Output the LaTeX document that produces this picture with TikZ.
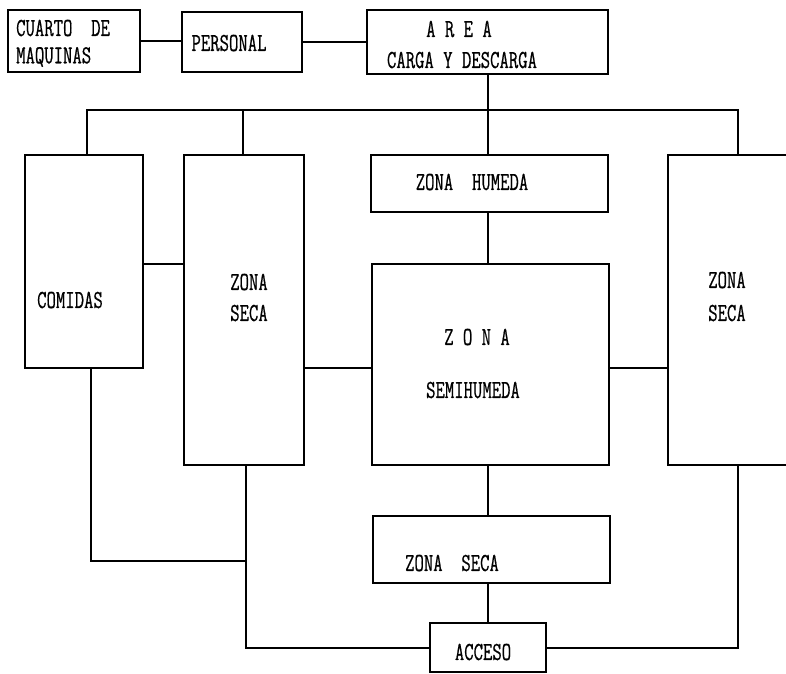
\documentclass[tikz,border=0pt]{standalone}
\usepackage{fontspec}
\setmainfont[FakeStretch=0.7,FakeBold=0.6]{Latin Modern Mono}
\begin{document}
\begin{tikzpicture}[x=1pt,y=-1pt,
  box/.style={draw,line width=1.2pt,inner sep=0pt},
  conn/.style={line width=1.2pt},
  txt/.style={inner sep=0pt,font=\fontsize{26}{30}\selectfont}]
\useasboundingbox (0,0) rectangle (786,673);
\clip (0,0) rectangle (786,673);
% boxes
\node[box,minimum width=132,minimum height=62] (cuarto) at (74,41) {};
\node[box,minimum width=120,minimum height=60] (personal) at (242,42) {};
\node[box,minimum width=241,minimum height=64] (area) at (487.5,42) {};
\node[box,minimum width=118,minimum height=213] (comidas) at (84,261.5) {};
\node[box,minimum width=120,minimum height=310] (zsecaL) at (244,310) {};
\node[box,minimum width=237,minimum height=57] (zhumeda) at (489.5,183.5) {};
\node[box,minimum width=237,minimum height=201] (zsemi) at (490.5,364.5) {};
\node[box,minimum width=130,minimum height=310] (zsecaR) at (733,310) {};
\node[box,minimum width=237,minimum height=67] (zsecaB) at (491.5,549.5) {};
\node[box,minimum width=116,minimum height=49] (acceso) at (488,647.5) {};
% texts
\node[txt,anchor=west] (t1) at (16,28) {CUARTO\ \ DE};
\node[txt,anchor=west] (t2) at (16,57) {MAQUINAS};
\node[txt] (t3) at (229,43) {PERSONAL};
\node[txt] (t4) at (459,29) {A R E A};
\node[txt] (t5) at (462,60) {CARGA Y DESCARGA};
\node[txt] (t6) at (70,300) {COMIDAS};
\node[txt] (t7) at (249,282) {ZONA};
\node[txt] (t8) at (249,313) {SECA};
\node[txt] (t9) at (472,182) {ZONA\ \ HUMEDA};
\node[txt] (t10) at (477,337) {Z O N A};
\node[txt] (t11) at (473,390) {SEMIHUMEDA};
\node[txt] (t12) at (727,280) {ZONA};
\node[txt] (t13) at (727,313) {SECA};
\node[txt] (t14) at (452,563) {ZONA\ \ SECA};
\node[txt] (t15) at (483,652) {ACCESO};
% helper coordinates
\coordinate (busL) at (87,110);
\coordinate (busM) at (243,110);
\coordinate (busR) at (738,110);
\coordinate (r264) at (0,264);
\coordinate (r368) at (0,368);
\coordinate (cDrop) at (91,561);
\coordinate (sDrop) at (246,561);
\coordinate (sBot) at (246,648);
\coordinate (rBot) at (738,648);
\coordinate (axis) at (488,0);
% connectors
\draw[conn] (cuarto.east) -- (personal.west |- cuarto.east);
\draw[conn] (personal.east) -- (area.west |- personal.east);
\draw[conn] (area.south -| axis) -- (zhumeda.north -| axis);
\draw[conn] (busL |- comidas.north) -- (busL) -- (busR) -- (busR |- zsecaR.north);
\draw[conn] (busM) -- (busM |- zsecaL.north);
\draw[conn] (comidas.east |- r264) -- (zsecaL.west |- r264);
\draw[conn] (zsecaL.east |- r368) -- (zsemi.west |- r368);
\draw[conn] (zsemi.east |- r368) -- (zsecaR.west |- r368);
\draw[conn] (zhumeda.south -| axis) -- (zsemi.north -| axis);
\draw[conn] (zsemi.south -| axis) -- (zsecaB.north -| axis);
\draw[conn] (zsecaB.south -| axis) -- (acceso.north -| axis);
\draw[conn] (cDrop |- comidas.south) -- (cDrop) -- (sDrop);
\draw[conn] (sDrop |- zsecaL.south) -- (sBot) -- (acceso.west |- sBot);
\draw[conn] (acceso.east |- rBot) -- (rBot) -- (rBot |- zsecaR.south);
\end{tikzpicture}
\end{document}
